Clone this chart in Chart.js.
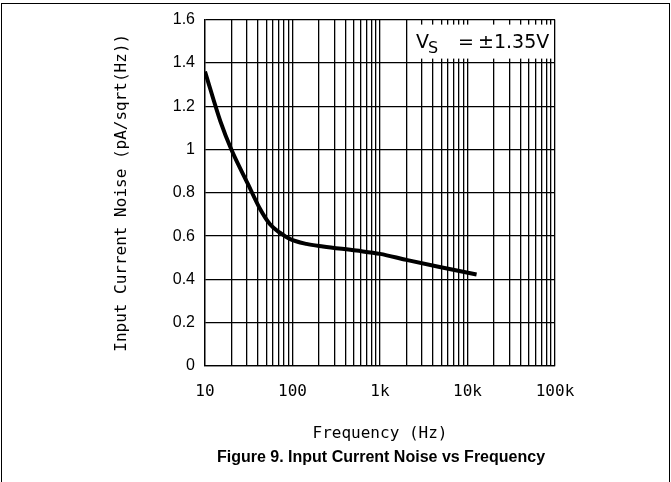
<!DOCTYPE html>
<html>
<head>
<meta charset="UTF-8">
<title>Input Current Noise vs Frequency</title>
<script src="https://cdn.jsdelivr.net/npm/chart.js@4/dist/chart.umd.min.js"></script>
<style>
  body { margin: 0; background: #fff; }
  #wrap { position: relative; width: 671px; height: 482px; }
  #frame { position: absolute; left: 1px; top: 3px; width: 667px; height: 490px; border: 1px solid #000; }
  canvas { position: absolute; left: 0; top: 0; }
  #caption {
    position: absolute; left: 181px; width: 400px; top: 448px;
    height: 19px; line-height: 19px; text-align: center;
    font: bold 16px Arial, 'Liberation Sans', sans-serif; color: #000;
  }
</style>
</head>
<body>
<div id="wrap">
  <div id="frame"></div>
  <canvas id="noiseChart" width="671" height="482"></canvas>
  <div id="caption">Figure 9. Input Current Noise vs Frequency</div>
</div>
<script>
// data
const freqHz = [10, 15, 20, 31, 42, 55, 71, 93, 144, 223, 537, 1000, 2000, 4800, 12700];
const noise  = [1.36, 1.13, 1.0, 0.84, 0.73, 0.656, 0.617, 0.587, 0.564, 0.552, 0.533, 0.518, 0.49, 0.457, 0.423];

// axis ticks
const majorTicks  = [10, 100, 1000, 10000, 100000];
const majorLabels = ['10', '100', '1k', '10k', '100k'];
const yTicks = [0, 0.2, 0.4, 0.6, 0.8, 1, 1.2, 1.4, 1.6];

// every 1..9 step in each decade gets a grid line
const xGridTicks = [];
for (let d = 0; d < majorTicks.length - 1; d++) {
    for (let m = 1; m <= 9; m++) xGridTicks.push(majorTicks[d] * m);
}
xGridTicks.push(majorTicks[majorTicks.length - 1]);

const mono = "'DejaVu Sans Mono', 'Liberation Mono', monospace";
const sans = "'DejaVu Sans', sans-serif";

// white box with the supply note, top right of the plot
const supplyNote = {
    id: 'supplyNote',
    beforeDatasetsDraw(chart) {
        const { ctx, chartArea } = chart;
        const x1 = chartArea.right - 2, x0 = x1 - 143;
        const y0 = chartArea.top + 5, y1 = y0 + 34;
        ctx.save();
        ctx.fillStyle = '#fff';
        ctx.fillRect(x0, y0, x1 - x0, y1 - y0);
        ctx.fillStyle = '#000';
        ctx.textBaseline = 'alphabetic';
        const base = y0 + 23;
        ctx.font = '19px ' + sans;
        ctx.fillText('V', x0 + 6, base);
        ctx.font = '16px ' + sans;
        ctx.fillText('S', x0 + 18, base + 5);
        ctx.font = '19px ' + sans;
        ctx.fillText('=', x0 + 48, base);
        ctx.fillText('\u00B11.35V', x0 + 68, base);
        ctx.restore();
    }
};

new Chart(document.getElementById('noiseChart'), {
    type: 'line',
    data: {
        datasets: [{
            data: freqHz.map((f, i) => ({ x: f, y: noise[i] })),
            borderColor: '#000',
            borderWidth: 4,
            pointRadius: 0,
            tension: 0.4,
            cubicInterpolationMode: 'monotone',
            fill: false
        }]
    },
    options: {
        responsive: false,
        animation: false,
        layout: { padding: { top: 17, right: 116, left: 0, bottom: 38.6 } },
        plugins: {
            legend: { display: false },
            tooltip: { enabled: false }
        },
        scales: {
            x: {
                type: 'logarithmic',
                min: 10,
                max: 100000,
                afterBuildTicks: s => { s.ticks = xGridTicks.map(v => ({ value: v })); },
                afterFit: s => { s.height = 77.4; },
                ticks: {
                    autoSkip: false,
                    maxRotation: 0,
                    minRotation: 0,
                    padding: 16,
                    color: '#000',
                    font: { family: mono, size: 16 },
                    callback: v => {
                        const i = majorTicks.indexOf(v);
                        return i >= 0 ? majorLabels[i] : '';
                    }
                },
                grid: { color: '#000', lineWidth: 1.3, drawTicks: false },
                border: { color: '#000', width: 1.3 },
                title: {
                    display: true,
                    text: 'Frequency (Hz)',
                    color: '#000',
                    font: { family: mono, size: 16 },
                    padding: { top: 0, bottom: 0 }
                }
            },
            y: {
                min: 0,
                max: 1.6,
                afterBuildTicks: s => { s.ticks = yTicks.map(v => ({ value: v })); },
                afterFit: s => { s.width = 205; },
                ticks: {
                    padding: 10,
                    color: '#000',
                    font: { family: "Arial, 'Liberation Sans', sans-serif", size: 16 },
                    callback: v => String(v)
                },
                grid: { color: '#000', lineWidth: 1.3, drawTicks: false },
                border: { color: '#000', width: 1.3 },
                title: {
                    display: true,
                    text: 'Input Current Noise (pA/sqrt(Hz))',
                    color: '#000',
                    font: { family: mono, size: 16 },
                    padding: { top: 112, bottom: 0 }
                }
            }
        }
    },
    plugins: [supplyNote]
});
</script>
</body>
</html>
